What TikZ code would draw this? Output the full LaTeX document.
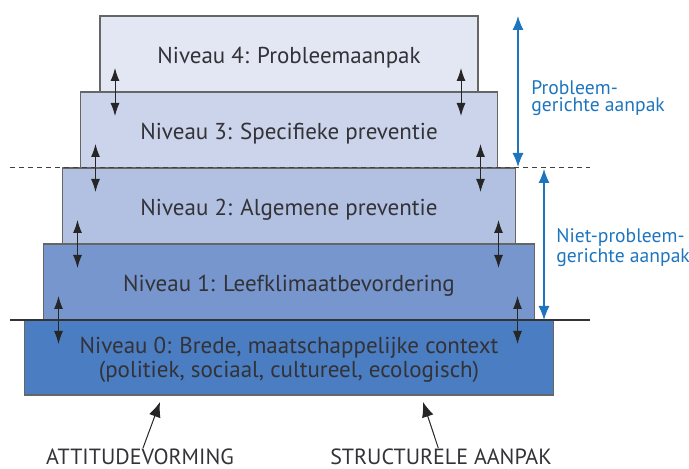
\documentclass[tikz,border=0pt]{standalone}
\usepackage{fontspec}
\setmainfont{PT Sans}
\usetikzlibrary{calc,positioning,arrows.meta}
\definecolor{lvlfour}{RGB}{227,231,243}
\definecolor{lvlthree}{RGB}{203,212,235}
\definecolor{lvltwo}{RGB}{178,193,225}
\definecolor{lvlone}{RGB}{118,150,205}
\definecolor{lvlzero}{RGB}{74,125,193}
\definecolor{myblue}{RGB}{30,117,190}
\definecolor{mygray}{RGB}{50,50,55}
\tikzset{
  level/.style={draw=black!60, line width=0.6pt, minimum height=38pt, inner sep=0pt, outer sep=0pt,
    text=mygray, align=center, font=\fontsize{11.5}{12}\selectfont},
  oneline/.style={level, text height=11pt, text depth=1pt},
  updown/.style={{Latex[length=6.5pt,width=4.5pt]}-{Latex[length=6.5pt,width=4.5pt]}, line width=0.5pt, black!85},
  span/.style={{Latex[length=7pt,width=5.5pt]}-{Latex[length=7pt,width=5.5pt]}, line width=0.6pt, myblue},
  spanlabel/.style={anchor=west, align=left, text=myblue, inner sep=0pt, font=\fontsize{9.8}{8.8}\selectfont},
  caption/.style={text=mygray, inner sep=0pt, text depth=0pt, anchor=base, font=\fontsize{11}{12}\selectfont},
  pointer/.style={-{Latex[length=7.5pt,width=6pt]}, line width=0.5pt, black!85}
}
\begin{document}
\begin{tikzpicture}[x=0.5pt, y=-0.5pt]
    \useasboundingbox (0,0) rectangle (689,469);
    \node [oneline, fill=lvlfour, minimum width=189pt] (lvl4) at (289,54) {Niveau 4: Probleemaanpak};
    \node [oneline, fill=lvlthree, minimum width=208.5pt, below=0pt of lvl4] (lvl3) {Niveau 3: Specifieke preventie};
    \node [oneline, fill=lvltwo, minimum width=226.5pt, below=0pt of lvl3] (lvl2) {Niveau 2: Algemene preventie};
    \node [oneline, fill=lvlone, minimum width=245.5pt, below=0pt of lvl2] (lvl1) {Niveau 1: Leefklimaatbevordering};
    \node [level, fill=lvlzero, minimum width=264.5pt, minimum height=37.5pt, below=0pt of lvl1] (lvl0)
    {\rule{0pt}{11pt}Niveau 0: Brede, maatschappelijke context\\(politiek, sociaal, cultureel, ecologisch)};
    \foreach \up in {4,3,2,1} {
      \draw [updown] ($(lvl\up.south west)+(15,-24)$) -- ($(lvl\up.south west)+(15,24)$);
      \draw [updown] ($(lvl\up.south east)+(-17,-24)$) -- ($(lvl\up.south east)+(-17,24)$);
    }
    \coordinate (dashl) at (10,168);
    \coordinate (dashr) at (590,168);
    \coordinate (basel) at (10,320);
    \coordinate (baser) at (590,320);
    \draw [dashed, dash pattern=on 2.5pt off 2pt, black!75, line width=0.5pt] (dashl) -- (dashr);
    \draw [black!80, line width=0.6pt] (basel) -- (baser);
    \coordinate (probtop) at (518,16);
    \coordinate (probbot) at (518,167);
    \coordinate (niettop) at (544,169);
    \coordinate (nietbot) at (544,320);
    \draw [span] (probtop) -- (probbot);
    \draw [span] (niettop) -- (nietbot);
    \node [spanlabel] (prob) at (531,98) {Probleem-\\gerichte aanpak};
    \node [spanlabel] (niet) at (556,248) {Niet-probleem-\\gerichte aanpak};
    \node [caption] (att) at (140,464) {ATTITUDEVORMING};
    \node [caption] (str) at (441,464) {STRUCTURELE AANPAK};
    \coordinate (atttip) at (160,402);
    \coordinate (strtip) at (423,402);
    \draw [pointer] (att) -- (atttip);
    \draw [pointer] (str) -- (strtip);
\end{tikzpicture}
\end{document}
